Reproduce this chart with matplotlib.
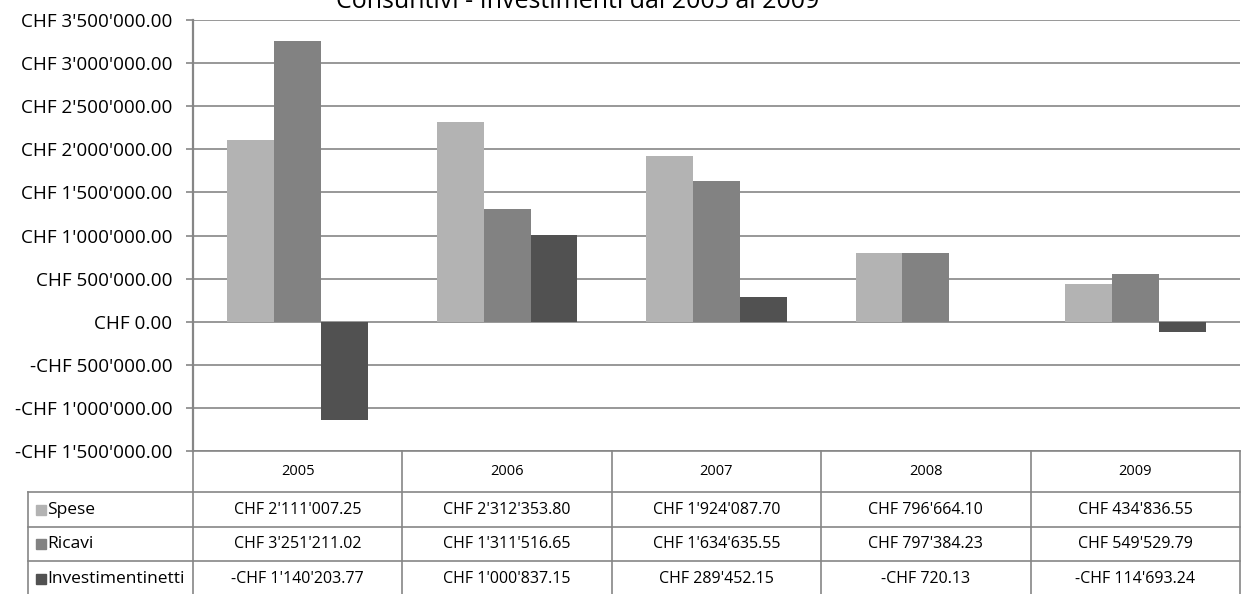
import matplotlib.pyplot as plt
import numpy as np
from matplotlib.ticker import FuncFormatter
from matplotlib.patches import Rectangle

plt.rcParams['font.family'] = ['Open Sans', 'DejaVu Sans']

years = ["2005", "2006", "2007", "2008", "2009"]
series = ["Spese", "Ricavi", "Investimentinetti"]
spese = [2111007.25, 2312353.80, 1924087.70, 796664.10, 434836.55]
ricavi = [3251211.02, 1311516.65, 1634635.55, 797384.23, 549529.79]
netti = [-1140203.77, 1000837.15, 289452.15, -720.13, -114693.24]
colors = ["#b3b3b3", "#828282", "#515151"]

W, H = 1249, 594
fig = plt.figure(figsize=(W / 100, H / 100), dpi=100)

def fx(px):
    return px / W

def fy(py):
    return 1 - py / H

grey = "#868686"

# Main bar axes
ax = fig.add_axes([fx(193), fy(451), fx(1240) - fx(193), fy(20) - fy(451)])
x = np.arange(len(years))
bw = 0.2235
for k, vals in enumerate([spese, ricavi, netti]):
    ax.bar(x + (k - 1) * bw, vals, width=bw, color=colors[k], zorder=3)

ax.set_xlim(-0.5, len(years) - 0.5)
ax.set_ylim(-1500000, 3500000)
ax.set_yticks(np.arange(-1500000, 3500001, 500000))


def chf(v, pos=None):
    s = "{:,.2f}".format(abs(v)).replace(",", "'")
    return ("-CHF " if v < 0 else "CHF ") + s


ax.yaxis.set_major_formatter(FuncFormatter(chf))
ax.set_xticks([])
ax.grid(axis="y", color=grey, lw=1.2, zorder=1)
for s in ["top", "right", "bottom"]:
    ax.spines[s].set_visible(False)
ax.spines["left"].set_color(grey)
ax.spines["left"].set_linewidth(1.6)
ax.tick_params(axis="y", direction="out", length=5, width=1.2, color=grey,
               pad=10, labelsize=13.6)

# Title (cut off at the top edge, as in the original)
fig.text(fx(578), fy(8), "Consuntivi - Investimenti dal 2005 al 2009",
         ha="center", va="baseline", fontsize=18)

# Data table under the axes
rows = [451, 492, 527, 561, 597]
unit = (1240 - 193) / len(years)
tax = fig.add_axes([fx(193), fy(597), fx(1240) - fx(193), fy(451) - fy(597)])
tax.set_xlim(-0.5, len(years) - 0.5)
tax.set_ylim(597, 451)
tax.axis("off")


def dx(px):
    return -0.5 + (px - 193) / unit


left = dx(28)

lk = dict(color=grey, lw=1.2, clip_on=False)
tax.plot([-0.5, 4.5], [rows[0], rows[0]], **lk)
for r in rows[1:]:
    tax.plot([left, 4.5], [r, r], **lk)
for c in np.arange(-0.5, 5.0, 1.0):
    tax.plot([c, c], [rows[0], rows[-1]], **lk)
tax.plot([left, left], [rows[1], rows[-1]], **lk)

for i, yr in enumerate(years):
    tax.text(i, (rows[0] + rows[1]) / 2, yr, ha="center", va="center",
             fontsize=10.5)

for k, vals in enumerate([spese, ricavi, netti]):
    yc = (rows[k + 1] + rows[k + 2]) / 2
    for i, v in enumerate(vals):
        tax.text(i, yc, chf(v), ha="center", va="center", fontsize=11.5,
                 clip_on=False)
    tax.add_patch(Rectangle((dx(36), yc - 5), dx(46) - dx(36), 10,
                            color=colors[k], clip_on=False))
    tax.text(dx(47), yc, series[k], ha="left", va="center",
             fontsize=12.5, clip_on=False)

fig.savefig("out.png", dpi=100)
